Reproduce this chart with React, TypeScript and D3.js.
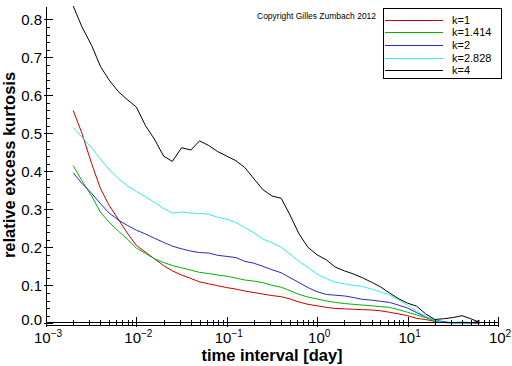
import React, { useRef, useEffect } from "react";
import * as d3 from "d3";

// time grid (days), 10 points per decade
const days = [
  0.002, 0.0025, 0.0032, 0.004, 0.005, 0.0063, 0.0079, 0.01, 0.0126, 0.0158,
  0.02, 0.025, 0.0316, 0.04, 0.05, 0.063, 0.079, 0.1, 0.126, 0.158,
  0.2, 0.25, 0.316, 0.4, 0.5, 0.63, 0.79, 1, 1.26, 1.58,
  2, 2.5, 3.16, 4, 5, 6.3, 7.9, 10, 12.6, 15.8,
  20, 25, 31.6, 40, 50, 63,
];

const k1 = [
  0.56, 0.5, 0.42, 0.355, 0.31, 0.274, 0.238, 0.205, 0.187, 0.17,
  0.152, 0.138, 0.127, 0.118, 0.109, 0.104, 0.099, 0.094, 0.09, 0.085,
  0.081, 0.077, 0.073, 0.07, 0.064, 0.056, 0.05, 0.046, 0.042, 0.039,
  0.038, 0.037, 0.036, 0.035, 0.033, 0.029, 0.025, 0.02, 0.013, 0.01,
  0.005, 0.002, 0.001, 0.002, 0.001, 0.0,
];
const k1414 = [
  0.415, 0.375, 0.335, 0.292, 0.266, 0.243, 0.222, 0.198, 0.184, 0.17,
  0.16, 0.152, 0.146, 0.14, 0.134, 0.131, 0.127, 0.124, 0.119, 0.114,
  0.111, 0.107, 0.1, 0.095, 0.086, 0.076, 0.069, 0.064, 0.059, 0.055,
  0.052, 0.05, 0.048, 0.046, 0.044, 0.042, 0.036, 0.029, 0.022, 0.015,
  0.006, 0.003, 0.002, 0.003, 0.002, 0.002,
];
const k2 = [
  0.396, 0.368, 0.342, 0.315, 0.29, 0.272, 0.258, 0.245, 0.235, 0.224,
  0.213, 0.203, 0.196, 0.19, 0.186, 0.185, 0.179, 0.176, 0.173, 0.163,
  0.158, 0.15, 0.141, 0.133, 0.12, 0.107, 0.094, 0.083, 0.076, 0.074,
  0.072, 0.068, 0.063, 0.061, 0.058, 0.055, 0.048, 0.04, 0.028, 0.017,
  0.009, 0.004, 0.001, 0.0, 0.0, 0.008,
];
const k2828 = [
  0.515, 0.49, 0.462, 0.432, 0.405, 0.381, 0.362, 0.347, 0.333, 0.318,
  0.302, 0.29, 0.293, 0.29, 0.289, 0.287, 0.279, 0.274, 0.265, 0.252,
  0.238, 0.222, 0.212, 0.2, 0.182, 0.163, 0.147, 0.129, 0.118, 0.108,
  0.104, 0.1, 0.097, 0.09, 0.083, 0.075, 0.062, 0.047, 0.032, 0.018,
  0.008, 0.002, 0.0, 0.0, 0.001, 0.004,
];
const k4 = [
  0.835, 0.78, 0.731, 0.676, 0.64, 0.61, 0.589, 0.569, 0.52, 0.485,
  0.44, 0.426, 0.462, 0.456, 0.48, 0.468, 0.452, 0.44, 0.428, 0.41,
  0.38, 0.352, 0.335, 0.329, 0.285, 0.235, 0.2, 0.18, 0.167, 0.148,
  0.138, 0.13, 0.12, 0.108, 0.096, 0.08, 0.065, 0.053, 0.045, 0.025,
  0.01, 0.012, 0.015, 0.02, 0.012, 0.002,
];

const seriesNames = ["k=1", "k=1.414", "k=2", "k=2.828", "k=4"];
const seriesValues = [k1, k1414, k2, k2828, k4];
const seriesColors = ["#c80000", "#00b400", "#2828c8", "#30eeee", "#000000"];

const yTicks = [0, 0.1, 0.2, 0.3, 0.4, 0.5, 0.6, 0.7, 0.8];
const xDecades = [-3, -2, -1, 0, 1, 2];

const font = "Liberation Sans, Arial, Helvetica, sans-serif";

const App = () => {
  const svgRef = useRef(null);

  useEffect(() => {
    const width = 512;
    const height = 366;
    const svg = d3.select(svgRef.current);
    svg.selectAll("*").remove();
    svg.attr("width", width).attr("height", height);

    const x = d3.scaleLog().domain([1e-3, 1e2]).range([46, 498]);
    const y = d3.scaleLinear().domain([0, 0.8]).range([323.3, 19.3]);

    svg.append("rect").attr("width", width).attr("height", height).attr("fill", "#fff");

    // curves
    const line = d3
      .line<number>()
      .x((d, i) => x(days[i]))
      .y((d) => y(d));
    seriesValues.forEach((vals, i) => {
      svg
        .append("path")
        .datum(vals)
        .attr("fill", "none")
        .attr("stroke", seriesColors[i])
        .attr("stroke-width", 1)
        .attr("d", line);
    });

    // y axis
    const ax = svg.append("g").attr("shape-rendering", "crispEdges").attr("stroke", "#000");
    ax.append("line").attr("x1", 46.5).attr("x2", 46.5).attr("y1", 7).attr("y2", 326);
    d3.range(0, 41).forEach((i) => {
      const v = i * 0.02;
      const major = i % 5 === 0;
      ax.append("line")
        .attr("x1", major ? 44 : 46)
        .attr("x2", major ? 53 : 50)
        .attr("y1", Math.round(y(v)) + 0.5)
        .attr("y2", Math.round(y(v)) + 0.5);
    });
    svg
      .append("g")
      .selectAll("text")
      .data(yTicks)
      .join("text")
      .attr("x", 42)
      // the 0.0 label sits a little higher, clear of the 10^-3 label
      .attr("y", (d) => y(d) + (d === 0 ? 1.5 : 5.5))
      .attr("text-anchor", "end")
      .attr("font-family", font)
      .attr("font-size", 15)
      .text((d) => d.toFixed(1));

    // x axis (double line)
    ax.append("line").attr("x1", 46).attr("x2", 499).attr("y1", 322.5).attr("y2", 322.5);
    ax.append("line").attr("x1", 46).attr("x2", 499).attr("y1", 325.5).attr("y2", 325.5);
    xDecades.forEach((e) => {
      const px = Math.round(x(Math.pow(10, e))) + 0.5;
      ax.append("line").attr("x1", px).attr("x2", px).attr("y1", 317).attr("y2", 327);
      if (e < 2) {
        d3.range(2, 10).forEach((m) => {
          const mx = Math.round(x(m * Math.pow(10, e))) + 0.5;
          ax.append("line").attr("x1", mx).attr("x2", mx).attr("y1", 320).attr("y2", 325);
        });
      }
    });
    xDecades.forEach((e) => {
      const t = svg
        .append("text")
        .attr("x", x(Math.pow(10, e)) + 2)
        .attr("y", 342.5)
        .attr("text-anchor", "middle")
        .attr("font-family", font)
        .attr("font-size", 15);
      t.append("tspan").text("10");
      t.append("tspan").attr("dy", -6).attr("font-size", 10).text(e < 0 ? "\u2212" + -e : String(e));
    });

    // axis titles
    svg
      .append("text")
      .attr("x", 272)
      .attr("y", 360.5)
      .attr("text-anchor", "middle")
      .attr("font-family", font)
      .attr("font-size", 16.5)
      .attr("font-weight", "bold")
      .text("time interval [day]");
    svg
      .append("text")
      .attr("transform", "translate(15,165) rotate(-90)")
      .attr("text-anchor", "middle")
      .attr("font-family", font)
      .attr("font-size", 16.5)
      .attr("font-weight", "bold")
      .text("relative excess kurtosis");

    // copyright
    svg
      .append("text")
      .attr("x", 257)
      .attr("y", 19)
      .attr("font-family", font)
      .attr("font-size", 8.5)
      .text("Copyright Gilles Zumbach 2012");

    // legend
    const lg = svg.append("g");
    lg.append("rect")
      .attr("x", 383.5)
      .attr("y", 8.5)
      .attr("width", 118)
      .attr("height", 70)
      .attr("fill", "#fff")
      .attr("stroke", "#000")
      .attr("shape-rendering", "crispEdges");
    seriesNames.forEach((name, i) => {
      const ly = 19.5 + i * 12.7;
      lg.append("line")
        .attr("x1", 385)
        .attr("x2", 443)
        .attr("y1", Math.round(ly) + 0.5)
        .attr("y2", Math.round(ly) + 0.5)
        .attr("stroke", seriesColors[i])
        .attr("stroke-width", 1);
      lg.append("text")
        .attr("x", 452)
        .attr("y", ly + 4)
        .attr("font-family", font)
        .attr("font-size", 11)
        .text(name);
    });
  }, []);

  return (
    <svg ref={svgRef} style={{ position: "absolute", left: 0, top: 0 }}></svg>
  );
};

export default App;
